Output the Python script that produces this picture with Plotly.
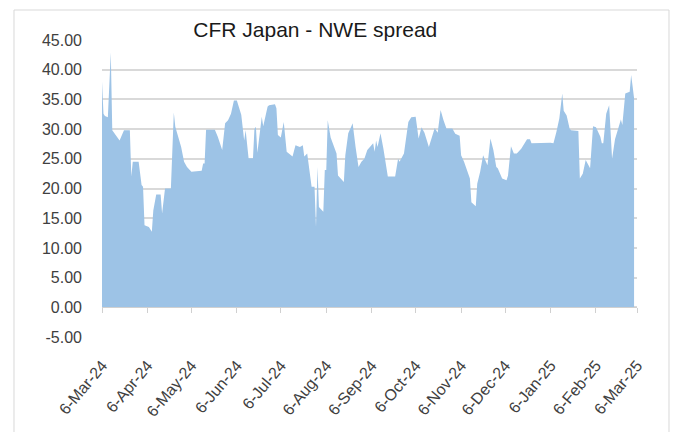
import plotly.graph_objects as go

# CFR Japan - NWE spread
dates = [
    "2024-03-06", "2024-03-07", "2024-03-08", "2024-03-10", "2024-03-12", "2024-03-13",
    "2024-03-18", "2024-03-21", "2024-03-25", "2024-03-26", "2024-03-27", "2024-03-31",
    "2024-04-02", "2024-04-03", "2024-04-04", "2024-04-07", "2024-04-09", "2024-04-10",
    "2024-04-12", "2024-04-15", "2024-04-16", "2024-04-18", "2024-04-22", "2024-04-24",
    "2024-04-25", "2024-04-29", "2024-05-01", "2024-05-03", "2024-05-06", "2024-05-13",
    "2024-05-14", "2024-05-15", "2024-05-16", "2024-05-22", "2024-05-24", "2024-05-27",
    "2024-05-29", "2024-05-31", "2024-06-02", "2024-06-04", "2024-06-06", "2024-06-09",
    "2024-06-11", "2024-06-12", "2024-06-14", "2024-06-17", "2024-06-18", "2024-06-19",
    "2024-06-20", "2024-06-23", "2024-06-24", "2024-06-27", "2024-06-28", "2024-07-02",
    "2024-07-03", "2024-07-04", "2024-07-06", "2024-07-08", "2024-07-10", "2024-07-14",
    "2024-07-16", "2024-07-19", "2024-07-21", "2024-07-22", "2024-07-24", "2024-07-27",
    "2024-07-29", "2024-07-30", "2024-07-31", "2024-08-01", "2024-08-04", "2024-08-05",
    "2024-08-06", "2024-08-07", "2024-08-09", "2024-08-12", "2024-08-13", "2024-08-14",
    "2024-08-18", "2024-08-19", "2024-08-21", "2024-08-23", "2024-08-24", "2024-08-26",
    "2024-08-28", "2024-08-30", "2024-09-01", "2024-09-03", "2024-09-07", "2024-09-08",
    "2024-09-09", "2024-09-10", "2024-09-12", "2024-09-14", "2024-09-17", "2024-09-22",
    "2024-09-24", "2024-09-25", "2024-09-28", "2024-10-01", "2024-10-03", "2024-10-06",
    "2024-10-08", "2024-10-10", "2024-10-12", "2024-10-15", "2024-10-17", "2024-10-19",
    "2024-10-21", "2024-10-23", "2024-10-25", "2024-10-27", "2024-10-31", "2024-11-02",
    "2024-11-05", "2024-11-06", "2024-11-08", "2024-11-10", "2024-11-12", "2024-11-13",
    "2024-11-16", "2024-11-17", "2024-11-19", "2024-11-21", "2024-11-24", "2024-11-26",
    "2024-11-28", "2024-11-30", "2024-12-01", "2024-12-04", "2024-12-07", "2024-12-08",
    "2024-12-10", "2024-12-12", "2024-12-14", "2024-12-17", "2024-12-21", "2024-12-23",
    "2024-12-24", "2025-01-06", "2025-01-08", "2025-01-10", "2025-01-12", "2025-01-14",
    "2025-01-15", "2025-01-17", "2025-01-19", "2025-01-20", "2025-01-25", "2025-01-26",
    "2025-01-28", "2025-01-30", "2025-02-02", "2025-02-04", "2025-02-06", "2025-02-09",
    "2025-02-10", "2025-02-11", "2025-02-13", "2025-02-15", "2025-02-16", "2025-02-17",
    "2025-02-19", "2025-02-21", "2025-02-23", "2025-02-24", "2025-02-26", "2025-03-01",
    "2025-03-02", "2025-03-03", "2025-03-04",
]
spread = [
    38.0, 32.6, 32.2, 32.0, 42.9, 29.8,
    28.1, 29.8, 29.8, 22.0, 24.5, 24.5,
    20.6, 20.3, 13.8, 13.5, 12.7, 16.3,
    19.0, 19.0, 15.8, 20.0, 20.0, 32.8,
    30.4, 27.0, 24.5, 23.6, 22.8, 23.0,
    24.2, 24.2, 29.9, 29.9, 28.7, 26.5,
    31.0, 31.5, 32.6, 34.8, 34.8, 32.4,
    28.1, 29.8, 25.1, 25.1, 30.0, 30.4,
    26.0, 32.1, 30.5, 33.8, 34.0, 34.2,
    33.5, 29.0, 28.6, 31.2, 26.2, 25.4,
    27.3, 27.0, 27.3, 25.4, 25.9, 20.3,
    20.3, 13.5, 23.6, 16.9, 16.1, 23.1,
    23.1, 31.5, 28.6, 26.3, 25.9, 22.2,
    21.1, 25.6, 29.3, 30.4, 31.0, 27.0,
    23.6, 24.5, 25.0, 26.5, 27.6, 26.2,
    28.1, 27.0, 29.3, 26.7, 22.0, 22.0,
    25.0, 24.5, 25.9, 31.2, 32.0, 32.1,
    28.4, 30.3, 29.4, 27.0, 28.7, 30.2,
    29.4, 33.2, 31.5, 30.1, 30.1, 29.2,
    28.9, 25.6, 24.5, 23.0, 21.7, 17.7,
    17.0, 20.8, 22.8, 25.6, 23.9, 28.4,
    26.5, 23.6, 23.4, 21.7, 21.4, 22.2,
    27.1, 25.9, 25.9, 26.7, 28.3, 28.3,
    27.6, 27.7, 27.6, 29.5, 31.8, 36.0,
    33.1, 32.3, 30.1, 29.8, 29.7, 21.7,
    22.5, 24.8, 23.4, 30.5, 30.3, 28.7,
    27.6, 27.6, 32.6, 34.0, 28.9, 25.0,
    28.3, 30.1, 31.6, 30.7, 36.0, 36.3,
    39.1, 37.2, 35.2,
]

y_ticks = [-5, 0, 5, 10, 15, 20, 25, 30, 35, 40, 45]
y_labels = ["-5.00", "0.00", "5.00", "10.00", "15.00", "20.00",
            "25.00", "30.00", "35.00", "40.00", "45.00"]
x_range = ["2024-03-06", "2025-03-06"]

fig = go.Figure()
fig.add_trace(go.Scatter(
    x=dates, y=spread, mode="lines", fill="tozeroy",
    line=dict(width=0, color="#9DC3E6"), fillcolor="#9DC3E6",
    showlegend=False, hoverinfo="x+y",
))

font = "Liberation Sans, Arial, sans-serif"
fig.update_layout(
    width=681, height=432,
    margin=dict(l=102, r=44, t=40, b=95, autoexpand=False),
    paper_bgcolor="white", plot_bgcolor="white",
    font=dict(family=font, color="#404040", size=16),
    title=dict(text="CFR Japan - NWE spread", x=0.463, y=0.932,
               xref="container", yref="container",
               xanchor="center", yanchor="middle",
               font=dict(size=21, color="#1a1a1a", family=font)),
    xaxis=dict(
        type="date", range=x_range, tick0="2024-03-06", dtick="M1",
        tickformat="%-d-%b-%y", tickangle=-50, showgrid=False,
        showline=False, zeroline=False, ticks="", ticklabelstandoff=15,
        automargin=False, tickfont=dict(size=16, color="#404040"),
    ),
    xaxis2=dict(
        type="date", range=x_range, tick0="2024-03-06", dtick="M1",
        overlaying="x", anchor="free", position=0.1, side="bottom",
        showticklabels=False, showgrid=False, zeroline=False,
        showline=True, linecolor="#D0D0D0", linewidth=1,
        ticks="outside", ticklen=5, tickcolor="#D0D0D0", automargin=False,
    ),
    yaxis=dict(
        range=[-5, 45], tickvals=y_ticks, ticktext=y_labels,
        showgrid=True, gridcolor="#D9D9D9", gridwidth=1.5,
        zeroline=False, showline=False, ticks="", ticklabelstandoff=19,
        automargin=False, tickfont=dict(size=16, color="#404040"),
    ),
    shapes=[dict(type="rect", xref="paper", yref="paper",
                 x0=-0.1645, x1=1.0598, y0=-0.4, y1=1.101,
                 line=dict(color="#D9D9D9", width=1), fillcolor="rgba(0,0,0,0)",
                 layer="below")],
)
# empty trace so the overlay axis with the 0-line ticks is drawn
fig.add_trace(go.Scatter(x=x_range, y=[None, None], xaxis="x2",
                         showlegend=False, hoverinfo="skip"))

fig.write_html("out.html", config={"displayModeBar": False},
               post_script="document.body.style.margin='0';")
